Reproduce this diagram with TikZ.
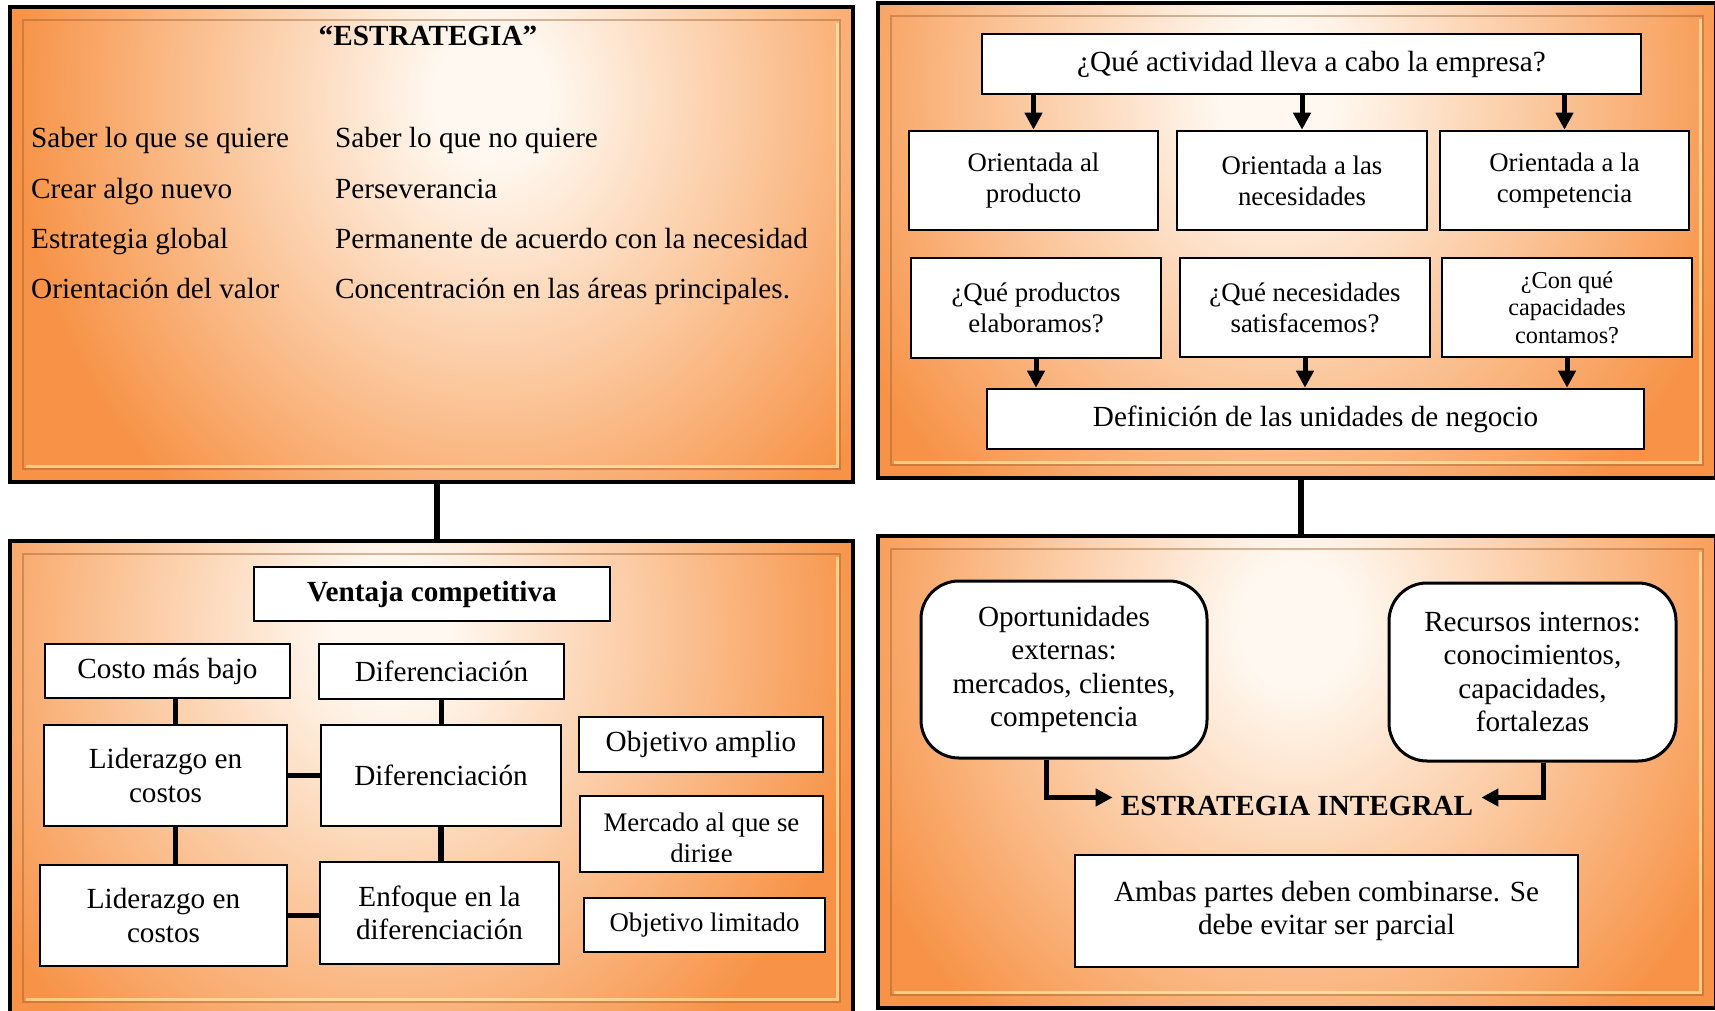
\documentclass[tikz,border=0pt]{standalone}
\usepackage{fontspec}
\setmainfont{Liberation Serif}
\usetikzlibrary{arrows.meta}

\definecolor{glowin}{RGB}{255,248,240}
\definecolor{glowmid}{RGB}{251,198,155}
\definecolor{glowout}{RGB}{247,146,70}
\pgfdeclareradialshading{panelglow}{\pgfpoint{0bp}{0bp}}{%
  color(0bp)=(glowin); color(3bp)=(glowin); color(14bp)=(glowmid);
  color(25bp)=(glowout); color(50bp)=(glowout)}

\tikzset{
  panel/.style={draw, line width=3.5pt, fill=glowout, inner sep=0pt,
    path picture={
      \shade[shading=panelglow] ([shift={(#1-480,-440)}]path picture bounding box.north)
        rectangle ([shift={(#1+480,620)}]path picture bounding box.north);
      \draw[bevel] ([shift={(13,13)}]path picture bounding box.north west)
        rectangle ([shift={(-13,-13)}]path picture bounding box.south east);
      \draw[bevellight] ([shift={(16,-16)}]path picture bounding box.south west)
        -- ([shift={(-16,-16)}]path picture bounding box.south east)
        -- ([shift={(-16,16)}]path picture bounding box.north east);
    }},
  panel/.default=0,
  bevel/.style={draw=glowout!60!black, draw opacity=.4, line width=1.5pt},
  bevellight/.style={draw=yellow!30!white, draw opacity=.55, line width=3pt},
  big/.style={font=\fontsize{29.2}{33.6}\selectfont},
  mid/.style={font=\fontsize{26.8}{31}\selectfont},
  small/.style={font=\fontsize{24.3}{27.5}\selectfont},
  txt/.style={big, inner sep=0pt},
  box/.style={draw, fill=white, line width=2.6pt, align=center, big},
  softbox/.style={box, line width=3pt, rounded corners=38pt},
  link/.style={line width=5.5pt},
  arr/.style={line width=5pt, -{Triangle[length=17pt,width=17pt]}}
}

\begin{document}
\begin{tikzpicture}[x=1pt,y=-1pt]
  \useasboundingbox (0,0) rectangle (1715,1010);
  \clip (0,0) rectangle (1715,1010);
  % the four panels
  \node[panel=60, minimum width=843, minimum height=475] (p1) at (431.5,244.5) {};
  \node[panel=-20, minimum width=838, minimum height=475] (p2) at (1297,240.5) {};
  \node[panel=-40, minimum width=843, minimum height=474] (p3) at (431.5,778) {};
  \node[panel=0, minimum width=838, minimum height=472] (p4) at (1297,772) {};
  \draw[link] ([xshift=5.5]p1.south) -- ([xshift=5.5]p3.north);
  \draw[link] ([xshift=4]p2.south) -- ([xshift=4]p4.north);

  % top left
  \node[txt, anchor=base] (tit) at (428,45) {\textbf{“ESTRATEGIA”}};
  \node[txt, anchor=base west] (s1) at (31,147) {Saber lo que se quiere};
  \node[txt, anchor=base west] (s2) at (31,198) {Crear algo nuevo};
  \node[txt, anchor=base west] (s3) at (31,248) {Estrategia global};
  \node[txt, anchor=base west] (s4) at (31,298) {Orientación del valor};
  \node[txt, anchor=base west] (t1) at (335,147) {Saber lo que no quiere};
  \node[txt, anchor=base west] (t2) at (335,198) {Perseverancia};
  \node[txt, anchor=base west] (t3) at (335,248) {Permanente de acuerdo con la necesidad};
  \node[txt, anchor=base west] (t4) at (335,298) {Concentración en las áreas principales.};

  % top right
  \node[box, minimum width=659, minimum height=60] (act) at (1311.5,64) {¿Qué actividad lleva a cabo la empresa?};
  \node[box, mid, minimum width=249, minimum height=99] (o1) at (1033.5,180.5) {Orientada al\\producto};
  \node[box, mid, minimum width=250, minimum height=99] (o2) at (1302,180.5) {Orientada a las\\necesidades};
  \node[box, mid, minimum width=249, minimum height=99] (o3) at (1564.5,180.5) {Orientada a la\\competencia};
  \node[box, mid, minimum width=250, minimum height=100] (n1) at (1036,308) {¿Qué productos\\elaboramos?};
  \node[box, mid, minimum width=250, minimum height=99] (n2) at (1305,307.5) {¿Qué necesidades\\satisfacemos?};
  \node[box, small, minimum width=250, minimum height=99] (n3) at (1567,307.5) {¿Con qué\\capacidades\\contamos?};
  \node[box, minimum width=657, minimum height=60] (def) at (1315.5,419) {Definición de las unidades de negocio};
  \draw[arr] (act.south -| o1) -- (o1);
  \draw[arr] (act.south -| o2) -- (o2);
  \draw[arr] (act.south -| o3) -- (o3);
  \draw[arr] (n1) -- (n1 |- def.north);
  \draw[arr] (n2) -- (n2 |- def.north);
  \draw[arr] (n3) -- (n3 |- def.north);

  % bottom left
  \node[box, minimum width=356, minimum height=54] (vc) at (432,594) {\textbf{Ventaja competitiva}};
  \node[box, minimum width=245, minimum height=54] (c1) at (167.5,671) {Costo más bajo};
  \node[box, minimum width=245, minimum height=55] (c2) at (441.5,671.5) {Diferenciación};
  \node[box, minimum width=243, minimum height=101] (l1) at (165.5,775.5) {Liderazgo en\\costos};
  \node[box, minimum width=240, minimum height=101] (d1) at (441,775.5) {Diferenciación};
  \node[box, minimum width=247, minimum height=101] (l2) at (163.5,915.5) {Liderazgo en\\costos};
  \node[box, minimum width=239, minimum height=102] (en) at (439.5,913) {Enfoque en la\\diferenciación};
  \node[box, minimum width=244, minimum height=55] (oa) at (701,744.5) {Objetivo amplio};
  \node[box, minimum width=243, minimum height=76] (mk) at (701.5,834) {};
  \begin{scope}
    \clip (mk.north west) rectangle ([yshift=12]mk.south east);
    \node[txt, mid, align=center] (mkt) at (701.5,841) {Mercado al que se\\dirige};
  \end{scope}
  \node[box, mid, minimum width=241, minimum height=54] (ol) at (704.5,925) {Objetivo limitado};
  \draw[link] ([xshift=8]c1.south) -- ([xshift=8]c1.south |- l1.north);
  \draw[link] (c2.south) -- (c2.south |- d1.north);
  \draw[link] ([xshift=10]l1.south) -- ([xshift=10]l1.south |- l2.north);
  \draw[link] (d1.south) -- (d1.south |- en.north);
  \draw[link] (l1.east) -- (l1.east -| d1.west);
  \draw[link] (l2.east) -- (l2.east -| en.west);

  % bottom right
  \node[softbox, minimum width=286, minimum height=177] (op) at (1064,669.5) {Oportunidades\\externas:\\mercados, clientes,\\competencia};
  \node[softbox, minimum width=287, minimum height=178] (re) at (1532.5,672) {Recursos internos:\\conocimientos,\\capacidades,\\fortalezas};
  \node[txt, inner sep=8pt, anchor=base] (ei) at (1297,815) {\textbf{ESTRATEGIA INTEGRAL}};
  \node[box, minimum width=503, minimum height=112] (am) at (1326.5,911) {Ambas partes deben combinarse. Se\\debe evitar ser parcial};
  \draw[arr] ([xshift=-18]op.south) |- ([yshift=8]ei.west);
  \draw[arr] ([xshift=11]re.south) |- ([yshift=8]ei.east);
\end{tikzpicture}
\end{document}
